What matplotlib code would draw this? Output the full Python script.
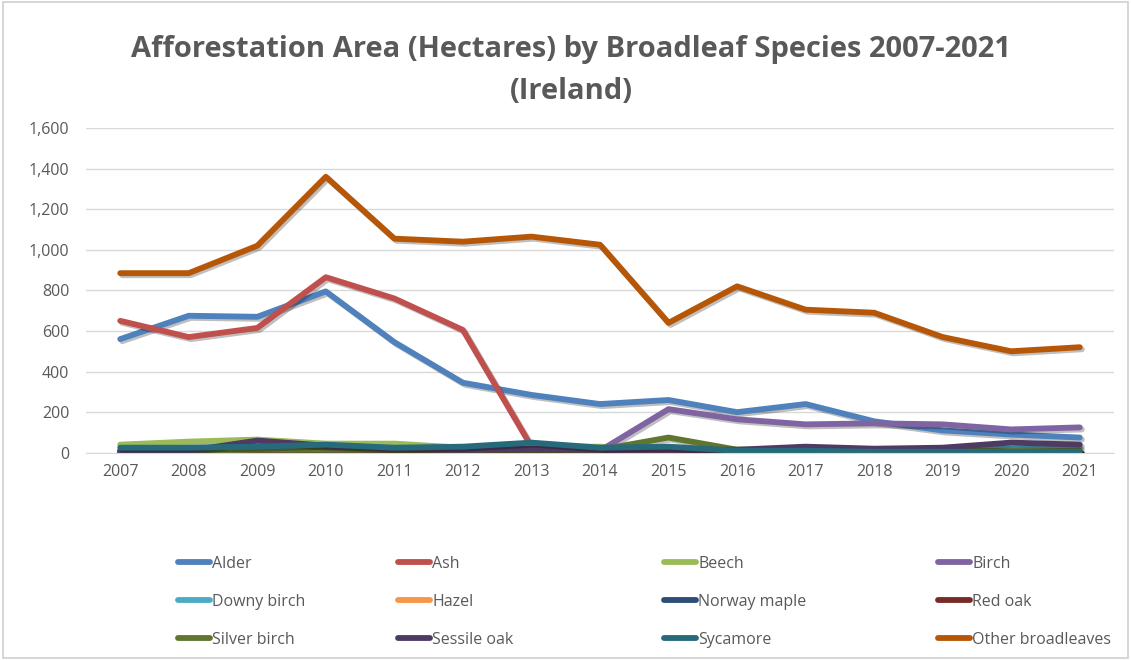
import matplotlib.pyplot as plt
import matplotlib.patheffects as pe
from matplotlib.patches import Rectangle
from matplotlib.ticker import FuncFormatter

years = list(range(2007, 2022))

alder = [560, 675, 670, 795, 545, 345, 285, 240, 260, 200, 240, 155, 110, 90, 75]
ash = [650, 570, 615, 865, 760, 605, 30, 10, 5, 5, 5, 5, 5, 5, 5]
beech = [40, 55, 65, 45, 45, 25, 30, 30, 15, 15, 10, 10, 5, 5, 5]
birch = [0, 0, 0, 0, 0, 0, 0, 10, 215, 165, 140, 145, 140, 115, 125]
downy_birch = [5, 5, 5, 5, 5, 5, 5, 5, 10, 10, 10, 10, 15, 20, 25]
hazel = [5, 5, 5, 5, 5, 5, 5, 5, 5, 5, 5, 5, 5, 5, 5]
norway_maple = [5, 5, 5, 5, 5, 5, 5, 5, 5, 5, 5, 5, 5, 5, 5]
red_oak = [10, 10, 10, 15, 10, 10, 10, 10, 5, 5, 5, 5, 5, 5, 5]
silver_birch = [10, 10, 15, 15, 15, 15, 15, 15, 75, 15, 15, 10, 10, 10, 10]
sessile_oak = [5, 10, 60, 35, 20, 15, 20, 15, 15, 15, 30, 20, 25, 50, 40]
sycamore = [25, 25, 30, 40, 25, 30, 50, 25, 30, 10, 10, 5, 5, 5, 5]
other = [885, 885, 1020, 1360, 1055, 1040, 1065, 1025, 640, 820, 705, 690, 570, 500, 520]

names = ["Alder", "Ash", "Beech", "Birch", "Downy birch", "Hazel", "Norway maple",
         "Red oak", "Silver birch", "Sessile oak", "Sycamore", "Other broadleaves"]
series = [alder, ash, beech, birch, downy_birch, hazel, norway_maple,
          red_oak, silver_birch, sessile_oak, sycamore, other]
colors = ["#4F81BD", "#C0504D", "#9BBB59", "#8064A2", "#4BACC6", "#F79646",
          "#2C4D75", "#772C2A", "#5F7530", "#4D3B62", "#276A7C", "#B65708"]

grey = "#595959"
plt.rcParams['font.family'] = ['Open Sans', 'DejaVu Sans']

fig = plt.figure(figsize=(11.31, 6.6), dpi=100)
fig.patches.append(Rectangle((0.003, 0.003), 0.994, 0.994, transform=fig.transFigure,
                             fill=False, edgecolor="#D0D0D0", linewidth=1.2))
ax = fig.add_axes([0.076, 0.314, 0.909, 0.492])

x = list(range(len(years)))
lines = []
for name, vals, col in zip(names, series, colors):
    ln, = ax.plot(x, vals, color=col, linewidth=4.2, label=name, solid_capstyle='round',
                  path_effects=[pe.SimpleLineShadow(offset=(1.5, -1.5), alpha=0.25, shadow_color='k'),
                                pe.Normal()])
    lines.append(ln)

ax.set_xlim(-0.5, len(years) - 0.5)
ax.set_ylim(0, 1600)
ax.set_yticks(range(0, 1601, 200))
ax.yaxis.set_major_formatter(FuncFormatter(lambda v, p: f"{int(v):,}"))
ax.set_xticks(x)
ax.set_xticklabels([str(y) for y in years])
ax.grid(axis='y', color="#D9D9D9", linewidth=1)
ax.set_axisbelow(True)
for s in ['top', 'right', 'left']:
    ax.spines[s].set_visible(False)
ax.spines['bottom'].set_color("#D9D9D9")
ax.tick_params(length=0, labelsize=11.5, labelcolor=grey, pad=8)
ax.tick_params(axis='y', pad=12)

fig.text(0.505, 0.925, "Afforestation Area (Hectares) by Broadleaf Species 2007-2021",
         ha='center', va='center', fontsize=21, fontweight='bold', color=grey)
fig.text(0.505, 0.862, "(Ireland)", ha='center', va='center', fontsize=21,
         fontweight='bold', color=grey)

# legend: 4 columns, filled row by row
col_x = [178, 398, 664, 938]
for c in range(4):
    idx = [c, c + 4, c + 8]
    leg = fig.legend([lines[i] for i in idx], [names[i] for i in idx],
                     loc='upper left', bbox_to_anchor=(col_x[c] / 1131, 1 - 556 / 660),
                     frameon=False, fontsize=11.5, handlelength=2.0, handletextpad=0.15,
                     labelspacing=1.38, borderpad=0, borderaxespad=0)
    for t in leg.get_texts():
        t.set_color(grey)
    for h in leg.get_lines():
        h.set_linewidth(4.2)
        h.set_path_effects([])

fig.savefig("out.png", dpi=100)
